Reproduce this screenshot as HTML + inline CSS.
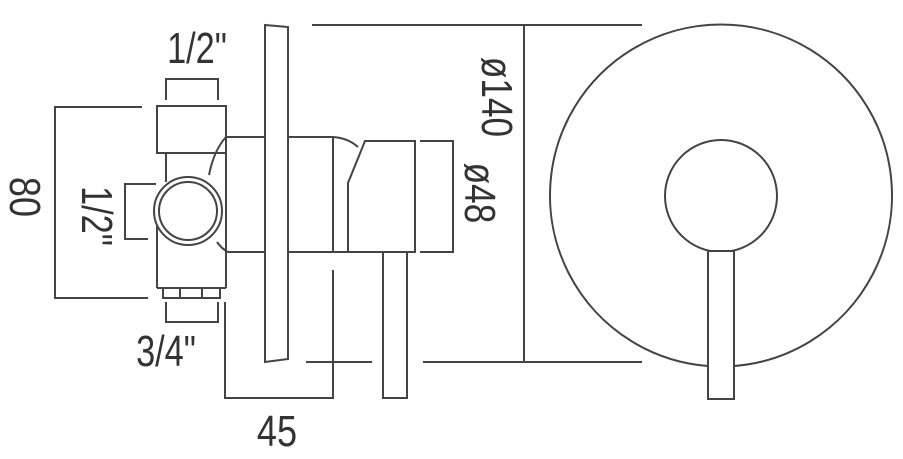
<!DOCTYPE html>
<html><head><meta charset="utf-8"><style>
html,body{margin:0;padding:0;background:#fff;width:903px;height:459px;overflow:hidden}
svg{display:block}
text{font-family:"Liberation Sans",sans-serif;fill:#333}
</style></head><body>
<svg width="903" height="459" viewBox="0 0 903 459" xmlns="http://www.w3.org/2000/svg">
<g fill="none" stroke="#444" stroke-width="2">
<polyline points="166,100 166,79 218,79 218,100"/>
<rect x="157" y="106" width="69" height="47"/>
<line x1="166" y1="153" x2="166" y2="182"/>
<line x1="226" y1="153" x2="226" y2="288"/>
<line x1="157" y1="226" x2="157" y2="288"/>
<line x1="157" y1="288" x2="226" y2="288"/>
<circle cx="188" cy="211" r="34"/>
<circle cx="188" cy="211" r="29"/>
<polyline points="163,288 163,298 220,298 220,288"/>
<line x1="180" y1="288" x2="180" y2="298"/>
<line x1="202" y1="288" x2="202" y2="298"/>
<polyline points="142,107 55,107 55,298 148,298"/>
<polyline points="156,184 125,184 125,239 148,239"/>
<polyline points="166,302 166,322 218,322 218,302"/>
<path d="M209,175 Q214,150 226,137 L265,137"/>
<path d="M217,242 Q222,249 228,252 L265,252"/>
<polygon points="265,25 288,27 288,359 265,362"/>
<line x1="288" y1="137" x2="333" y2="137"/>
<line x1="288" y1="252" x2="348" y2="252"/>
<line x1="333" y1="137" x2="333" y2="252"/>
<path d="M333,137 Q348,138 358,147"/>
<polygon points="365,141 415,141 415,252 348,252 348,183"/>
<rect x="383" y="252" width="24" height="146"/>
<polyline points="420,141 453,141 453,252 420,252"/>
<line x1="312" y1="25" x2="642" y2="25"/>
<line x1="423" y1="362" x2="642" y2="362"/>
<line x1="306" y1="362" x2="372" y2="362"/>
<line x1="524" y1="25" x2="524" y2="362"/>
<polyline points="225,302 225,398 333,398 333,270"/>
<path d="M708,366 A171,171 0 1 1 734,366"/>
<circle cx="721" cy="196" r="56"/>
<rect x="708" y="251" width="26" height="148" fill="#fff"/>
</g>
<g font-size="44" text-anchor="middle">
<text transform="translate(197,63) scale(0.78,1)">1/2"</text>
<text transform="translate(166,366) scale(0.78,1)">3/4"</text>
<text transform="translate(277,446) scale(0.82,1)">45</text>
<text transform="translate(10,197) rotate(90) scale(0.82,1)">80</text>
<text transform="translate(82,216) rotate(90) scale(0.78,1)">1/2"</text>
<text transform="translate(482,97) rotate(90) scale(0.8,1)">ø140</text>
<text transform="translate(465,193) rotate(90) scale(0.8,1)">ø48</text>
</g>
</svg>
</body></html>
